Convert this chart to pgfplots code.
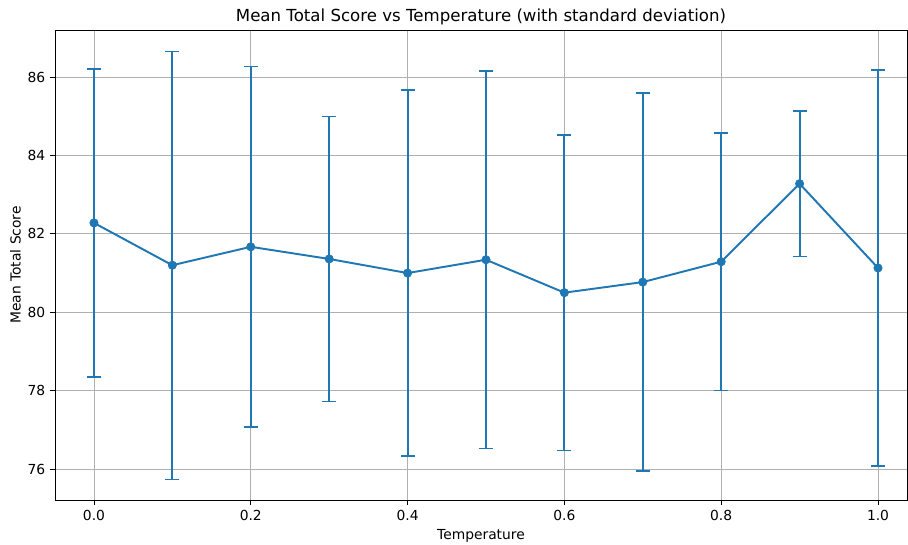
\documentclass[border=0pt]{standalone}
\usepackage{pgfplots}
\pgfplotsset{compat=1.18}
\usepackage{fontspec}
\setmainfont{DejaVu Sans}
\definecolor{tabblue}{HTML}{1F77B4}
\begin{document}
\begin{tikzpicture}
\begin{axis}[
  scale only axis,
  width=8.52in, height=4.70in,
  xmin=-0.0497, xmax=1.037,
  ymin=75.21, ymax=87.2,
  xtick={0,0.2,0.4,0.6,0.8,1.0},
  ytick={76,78,80,82,84,86},
  xticklabel style={/pgf/number format/.cd,fixed,fixed zerofill,precision=1},
  /pgf/number format/assume math mode=true,
  tick label style={font=\fontsize{10}{12}\selectfont},
  label style={font=\fontsize{10}{12}\selectfont},
  ylabel style={xshift=0pt, yshift=-2pt},
  title style={font=\fontsize{12}{14}\selectfont, yshift=-6pt},
  title={Mean Total Score vs Temperature (with standard deviation)},
  xlabel={Temperature},
  ylabel={Mean Total Score},
  grid=major,
  major grid style={color=black!31, line width=0.6pt},
  tick align=outside,
  major tick length=3.5pt,
  tick style={black, line width=0.6pt},
  axis line style={line width=0.6pt},
  xtick pos=bottom, ytick pos=left,
]
\addplot[color=tabblue, line width=1.4pt, mark=*, mark size=3pt,
  mark options={fill=tabblue, draw=tabblue, line width=0.5pt},
  error bars/.cd, y dir=both, y explicit,
  error bar style={line width=1.45pt, color=tabblue},
  error mark options={rotate=90, mark size=5pt, line width=1pt, color=tabblue}]
coordinates {
 (0.0,82.28) +- (0,3.93)
 (0.1,81.20) +- (0,5.46)
 (0.2,81.67) +- (0,4.60)
 (0.3,81.36) +- (0,3.64)
 (0.4,81.00) +- (0,4.67)
 (0.5,81.34) +- (0,4.81)
 (0.6,80.50) +- (0,4.02)
 (0.7,80.77) +- (0,4.82)
 (0.8,81.29) +- (0,3.28)
 (0.9,83.28) +- (0,1.85)
 (1.0,81.13) +- (0,5.05)
};
\end{axis}
\pgfresetboundingbox
\path[use as bounding box] ([xshift=-39.75pt,yshift=-32.5pt]current axis.south west) rectangle ([xshift=0.72pt,yshift=21.7pt]current axis.north east);
\end{tikzpicture}
\end{document}
